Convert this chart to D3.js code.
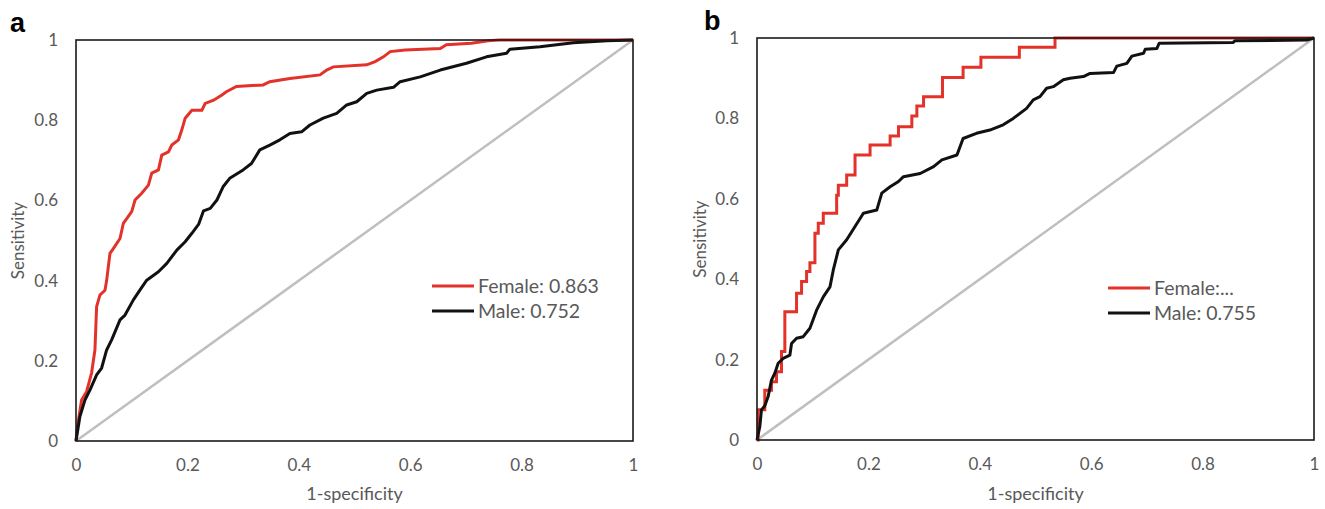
<!DOCTYPE html>
<html><head><meta charset="utf-8">
<script src="https://cdn.jsdelivr.net/npm/d3@7"></script>
<style>body{margin:0;background:#fff}svg{display:block}</style>
</head><body>
<svg id="chart" width="1325" height="509"></svg>
<script>
// ---- data ----
const xTicks = [0, 0.2, 0.4, 0.6, 0.8, 1];
const yTicks = [0, 0.2, 0.4, 0.6, 0.8, 1];
const xTickLabels = ["0", "0.2", "0.4", "0.6", "0.8", "1"];
const yTickLabels = ["0", "0.2", "0.4", "0.6", "0.8", "1"];
const panelLabels = ["a", "b"];
const seriesNames = ["Female", "Male"];
const legendA = ["Female: 0.863", "Male: 0.752"];
const legendB = ["Female:...", "Male: 0.755"];
const xTitle = "1-specificity";
const yTitle = "Sensitivity";

// panel a: [fpr, tpr]
const femaleA = [[0,0],[0.002,0.03],[0.01,0.102],[0.019,0.123],[0.028,0.17],[0.034,0.227],[0.037,0.335],[0.043,0.364],[0.052,0.376],[0.055,0.40],[0.061,0.468],[0.067,0.48],[0.079,0.505],[0.085,0.543],[0.1,0.572],[0.106,0.601],[0.118,0.618],[0.13,0.638],[0.136,0.668],[0.148,0.676],[0.154,0.713],[0.166,0.721],[0.172,0.738],[0.184,0.751],[0.19,0.776],[0.196,0.805],[0.208,0.825],[0.226,0.825],[0.232,0.842],[0.247,0.85],[0.262,0.863],[0.27,0.871],[0.288,0.884],[0.336,0.888],[0.348,0.896],[0.384,0.904],[0.438,0.913],[0.45,0.925],[0.462,0.933],[0.522,0.938],[0.537,0.946],[0.552,0.958],[0.564,0.971],[0.591,0.975],[0.654,0.979],[0.665,0.988],[0.71,0.992],[0.74,0.998],[0.76,1],[1,1]];
const maleA = [[0,0],[0.007,0.061],[0.016,0.102],[0.025,0.127],[0.037,0.165],[0.046,0.182],[0.055,0.227],[0.064,0.252],[0.079,0.302],[0.088,0.314],[0.103,0.352],[0.115,0.377],[0.127,0.401],[0.148,0.422],[0.163,0.443],[0.181,0.476],[0.196,0.497],[0.208,0.518],[0.22,0.54],[0.229,0.574],[0.241,0.58],[0.253,0.601],[0.264,0.634],[0.276,0.655],[0.3,0.676],[0.315,0.692],[0.33,0.726],[0.348,0.738],[0.366,0.751],[0.384,0.767],[0.405,0.771],[0.42,0.788],[0.444,0.805],[0.468,0.817],[0.486,0.838],[0.504,0.846],[0.522,0.867],[0.54,0.875],[0.57,0.882],[0.582,0.896],[0.618,0.908],[0.654,0.925],[0.701,0.942],[0.737,0.958],[0.773,0.967],[0.779,0.977],[0.833,0.983],[0.893,0.993],[0.953,0.998],[1,1]];

// panel b (female is a step curve: horizontal then vertical)
const femaleB = [[0,0],[0.002,0.075],[0.014,0.124],[0.026,0.145],[0.035,0.17],[0.044,0.22],[0.05,0.319],[0.071,0.365],[0.08,0.394],[0.089,0.419],[0.095,0.441],[0.104,0.514],[0.11,0.539],[0.119,0.564],[0.143,0.609],[0.146,0.634],[0.161,0.659],[0.176,0.709],[0.203,0.734],[0.239,0.756],[0.254,0.779],[0.278,0.806],[0.287,0.831],[0.299,0.854],[0.333,0.902],[0.37,0.927],[0.402,0.952],[0.471,0.977],[0.535,1],[1,1]];
const maleB = [[0,0],[0.005,0.033],[0.008,0.075],[0.014,0.085],[0.02,0.108],[0.026,0.149],[0.032,0.166],[0.038,0.191],[0.047,0.203],[0.059,0.211],[0.062,0.24],[0.071,0.253],[0.083,0.257],[0.095,0.278],[0.107,0.323],[0.119,0.356],[0.131,0.381],[0.137,0.423],[0.146,0.473],[0.161,0.498],[0.176,0.531],[0.191,0.564],[0.215,0.572],[0.224,0.614],[0.239,0.63],[0.254,0.643],[0.263,0.655],[0.293,0.663],[0.317,0.68],[0.332,0.697],[0.359,0.709],[0.37,0.75],[0.394,0.763],[0.418,0.771],[0.442,0.784],[0.46,0.8],[0.484,0.825],[0.496,0.846],[0.508,0.854],[0.52,0.875],[0.532,0.879],[0.55,0.896],[0.562,0.9],[0.586,0.904],[0.598,0.912],[0.64,0.914],[0.646,0.93],[0.664,0.937],[0.673,0.955],[0.694,0.962],[0.697,0.972],[0.718,0.974],[0.722,0.987],[0.855,0.989],[0.858,0.993],[0.987,0.995],[1,1]];

// ---- drawing ----
const RED = "#e3322a", BLACK = "#111111", GRAY = "#bfbfbf", TXT = "#595959";
const FONT = "Lato, 'Open Sans', sans-serif";
const svg = d3.select("#chart");

const panels = [
  {label: panelLabels[0], lx: 10, ly: 32, x0: 76, x1: 633, y0: 441, y1: 40, female: femaleA, male: maleA, femaleStep: false, legend: legendA, legX: 432, legY: 286, yTitleX: 18},
  {label: panelLabels[1], lx: 704, ly: 30, x0: 757, x1: 1314, y0: 440, y1: 38, female: femaleB, male: maleB, femaleStep: true, legend: legendB, legX: 1108, legY: 288, yTitleX: 700}
];

panels.forEach(p => {
  const g = svg.append("g");
  const x = d3.scaleLinear().domain([0, 1]).range([p.x0, p.x1]);
  const y = d3.scaleLinear().domain([0, 1]).range([p.y0, p.y1]);

  // diagonal
  g.append("path").datum([[0,0],[1,1]])
    .attr("d", d3.line().x(d => x(d[0])).y(d => y(d[1])))
    .attr("fill", "none").attr("stroke", GRAY).attr("stroke-width", 2.5);

  const lin = d3.line().x(d => x(d[0])).y(d => y(d[1]));
  const stp = d3.line().x(d => x(d[0])).y(d => y(d[1])).curve(d3.curveStepAfter);

  g.append("path").datum(p.female)
    .attr("d", p.femaleStep ? stp : lin)
    .attr("fill", "none").attr("stroke", RED).attr("stroke-width", 3).attr("stroke-linejoin", "miter");
  g.append("path").datum(p.male)
    .attr("d", lin)
    .attr("fill", "none").attr("stroke", BLACK).attr("stroke-width", 3).attr("stroke-linejoin", "round");

  // frame
  g.append("rect").attr("x", p.x0).attr("y", p.y1)
    .attr("width", p.x1 - p.x0).attr("height", p.y0 - p.y1)
    .attr("fill", "none").attr("stroke", "#1a1a1a").attr("stroke-width", 1.6);

  // axes (labels only)
  const xAxis = d3.axisBottom(x).tickValues(xTicks).tickFormat((d, i) => xTickLabels[i]).tickSize(0).tickPadding(18);
  const ax = g.append("g").attr("transform", `translate(0,${p.y0})`).call(xAxis);
  ax.select(".domain").remove();
  ax.selectAll("text").attr("fill", TXT).attr("font-size", 17).attr("font-family", FONT);

  const yAxis = d3.axisLeft(y).tickValues(yTicks).tickFormat((d, i) => yTickLabels[i]).tickSize(0).tickPadding(18);
  const ay = g.append("g").attr("transform", `translate(${p.x0},0)`).call(yAxis);
  ay.select(".domain").remove();
  ay.selectAll("text").attr("fill", TXT).attr("font-size", 17).attr("font-family", FONT);

  // titles
  g.append("text").attr("x", (p.x0 + p.x1) / 2).attr("y", 500)
    .attr("text-anchor", "middle").attr("fill", TXT).attr("font-size", 18).attr("font-family", FONT)
    .text(xTitle);
  g.append("text").attr("transform", `translate(${p.yTitleX + 6},${(p.y0 + p.y1) / 2}) rotate(-90)`)
    .attr("text-anchor", "middle").attr("fill", TXT).attr("font-size", 17).attr("font-family", FONT)
    .text(yTitle);

  // panel letter
  g.append("text").attr("x", p.lx).attr("y", p.ly)
    .attr("fill", "#000").attr("font-size", 27).attr("font-weight", "bold").attr("font-family", "'Liberation Sans', Arial, sans-serif")
    .text(p.label);

  // legend
  const colors = [RED, BLACK];
  p.legend.forEach((t, i) => {
    const ly = p.legY + i * 25;
    g.append("line").attr("x1", p.legX).attr("x2", p.legX + 42).attr("y1", ly).attr("y2", ly)
      .attr("stroke", colors[i]).attr("stroke-width", 3);
    g.append("text").attr("x", p.legX + 46).attr("y", ly).attr("dy", "0.35em")
      .attr("fill", TXT).attr("font-size", 19.5).attr("font-family", FONT).text(t);
  });
});
</script>
</body></html>
